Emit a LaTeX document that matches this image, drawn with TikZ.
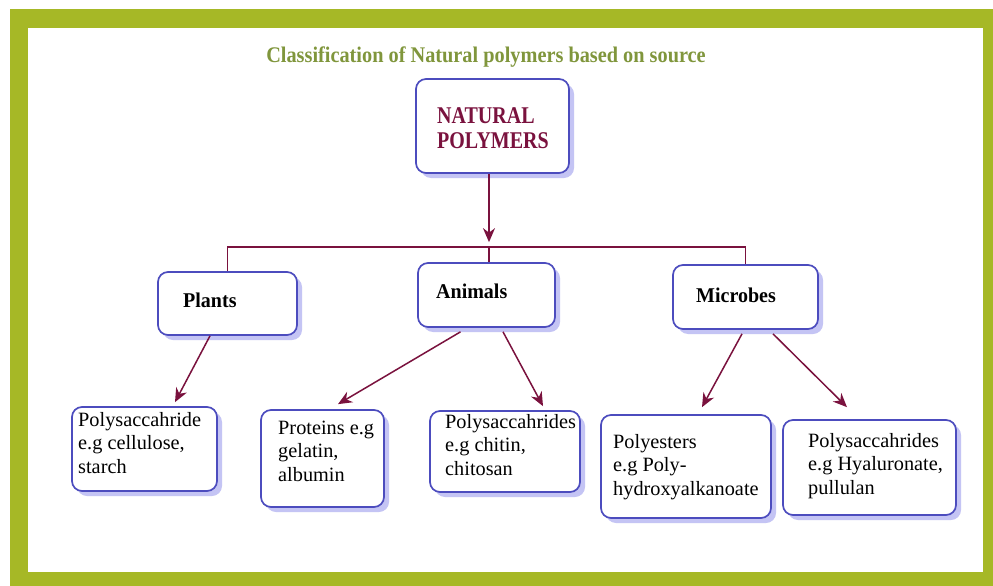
\documentclass[tikz,border=0pt]{standalone}
\usepackage{fontspec}
\setmainfont{Liberation Serif}
\usepackage{graphicx}
\usetikzlibrary{arrows.meta,shadows,calc}
\definecolor{framegreen}{RGB}{166,184,38}
\definecolor{titlegreen}{RGB}{128,150,60}
\definecolor{maroonc}{RGB}{122,18,62}
\definecolor{boxblue}{RGB}{76,76,190}
\definecolor{shadowc}{RGB}{196,196,244}
\newcommand\threelines[3]{\vtop{\hbox{#1}\hbox{#2}\hbox{#3}}}
\begin{document}
\begin{tikzpicture}[x=1pt,y=-1pt,
  box/.style={draw=boxblue,line width=1.7pt,rounded corners=10pt,fill=white,inner sep=0pt,
    drop shadow={shadow xshift=5pt,shadow yshift=-5pt,fill=shadowc,opacity=1}},
  leaf/.style={anchor=base west,inner sep=0pt,font=\fontsize{20.3}{23.5}\selectfont},
  head/.style={anchor=base west,inner sep=0pt,font=\fontsize{20}{24}\selectfont\bfseries},
  conn/.style={draw=maroonc,line width=1.5pt,-{Stealth[length=14pt,width=12pt]}},
  busline/.style={draw=maroonc,line width=1.3pt}]
\useasboundingbox (0,0) rectangle (993,586);
\fill[white] (0,0) rectangle (993,586);
\fill[framegreen] (10,9) rectangle (993,586);
\fill[white] (28,28) rectangle (983,572);

\node[anchor=base,inner sep=0pt,text=titlegreen,font=\fontsize{20.3}{24}\selectfont\bfseries] (title) at (486,63)
  {\scalebox{1}[1.1]{Classification of Natural polymers based on source}};

% boxes
\node[box,minimum width=153pt,minimum height=94pt] (nat) at (492.5,126) {};
\node[box,minimum width=139pt,minimum height=63pt] (plants) at (227.5,303.5) {};
\node[box,minimum width=137pt,minimum height=64pt] (animals) at (486.5,295) {};
\node[box,minimum width=145pt,minimum height=64pt] (microbes) at (745.5,297) {};
\node[box,minimum width=145pt,minimum height=84pt] (cell) at (144.5,449) {};
\node[box,minimum width=123pt,minimum height=97pt] (prot) at (322.5,458.5) {};
\node[box,minimum width=150pt,minimum height=81pt] (chit) at (505,451.5) {};
\node[box,minimum width=170pt,minimum height=103pt] (poly) at (686,466.5) {};
\node[box,minimum width=173pt,minimum height=95pt] (hyal) at (869.5,467.5) {};

% texts
\node[head,text=maroonc] (natA) at (437,123) {\scalebox{1}[1.2]{NATURAL}};
\node[head,text=maroonc] (natB) at (437,148) {\scalebox{1}[1.2]{POLYMERS}};
\node[head] (plantsT) at (183,307) {\scalebox{1}[1.05]{Plants}};
\node[head] (animalsT) at (436,298) {\scalebox{1}[1.05]{Animals}};
\node[head] (microbesT) at (696,302) {\scalebox{1}[1.05]{Microbes}};

\node[leaf] (cellT) at (78,426) {\threelines{Polysaccahride}{e.g cellulose,}{starch}};
\node[leaf] (protT) at (278,434) {\threelines{Proteins e.g}{gelatin,}{albumin}};
\node[leaf] (chitT) at (445,428) {\threelines{Polysaccahrides}{e.g chitin,}{chitosan}};
\node[leaf] (polyT) at (613,448) {\threelines{Polyesters}{e.g Poly-}{hydroxyalkanoate}};
\node[leaf] (hyalT) at (808,447) {\threelines{Polysaccahrides}{e.g Hyaluronate,}{pullulan}};

% connectors
\coordinate (bus) at (489,247);
\draw[conn] ($(nat.south)+(-3.5,0)$) -- ($(animals.north)+(2.5,-20)$);
\draw[busline] (plants.north) -- (plants.north |- bus) -- (microbes.north |- bus) -- (microbes.north);
\draw[busline] (bus) -- (bus |- animals.north);

\draw[conn] ($(plants.south)+(-17.5,0)$) -- ($(cell.north)+(30.5,-4)$);
\draw[conn] ($(animals.south)+(-26,4)$) -- ($(prot.north)+(15.5,-5)$);
\draw[conn] ($(animals.south)+(16.5,4)$) -- ($(chit.north)+(38,-4)$);
\draw[conn] ($(microbes.south)+(-3.5,4)$) -- ($(poly.north)+(16,-7)$);
\draw[conn] ($(microbes.south)+(27.5,4)$) -- ($(hyal.north)+(-22.5,-12)$);
\end{tikzpicture}
\end{document}
